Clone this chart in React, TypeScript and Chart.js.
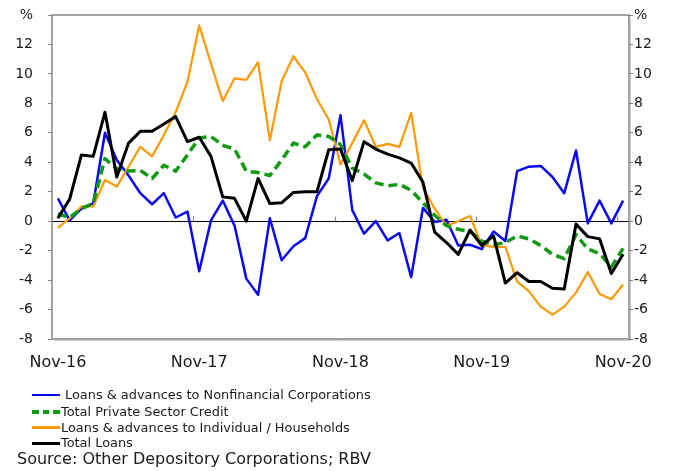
import React, { useEffect, useRef } from "react";
import { Chart, registerables } from "chart.js";

Chart.register(...registerables);

const months = [
  "Nov-16", "Dec-16", "Jan-17", "Feb-17", "Mar-17", "Apr-17", "May-17", "Jun-17", "Jul-17", "Aug-17", "Sep-17", "Oct-17",
  "Nov-17", "Dec-17", "Jan-18", "Feb-18", "Mar-18", "Apr-18", "May-18", "Jun-18", "Jul-18", "Aug-18", "Sep-18", "Oct-18",
  "Nov-18", "Dec-18", "Jan-19", "Feb-19", "Mar-19", "Apr-19", "May-19", "Jun-19", "Jul-19", "Aug-19", "Sep-19", "Oct-19",
  "Nov-19", "Dec-19", "Jan-20", "Feb-20", "Mar-20", "Apr-20", "May-20", "Jun-20", "Jul-20", "Aug-20", "Sep-20", "Oct-20",
  "Nov-20",
];

const shownLabels = ["Nov-16", "Nov-17", "Nov-18", "Nov-19", "Nov-20"];

const nonfinancialCorporations = [
  1.55, 0.05, 0.85, 1.2, 6.0, 4.15, 3.1, 1.9, 1.15, 1.9,
  0.25, 0.65, -3.4, 0.05, 1.4, -0.3, -3.9, -5.0, 0.2, -2.65,
  -1.7, -1.15, 1.7, 2.9, 7.2, 0.75, -0.85, 0.0, -1.3, -0.8,
  -3.8, 0.9, -0.05, 0.1, -1.65, -1.6, -1.9, -0.7, -1.35, 3.4,
  3.7, 3.75, 3.0, 1.9, 4.8, -0.15, 1.4, -0.15, 1.4,
];

const totalPrivateSectorCredit = [
  0.5, 0.25, 0.85, 1.2, 4.25, 3.55, 3.4, 3.45, 2.9, 3.8,
  3.4, 4.5, 5.65, 5.75, 5.15, 4.9, 3.4, 3.3, 3.1, 4.15,
  5.3, 5.05, 5.85, 5.75, 5.2, 3.6, 3.2, 2.6, 2.4, 2.5,
  2.1, 1.25, 0.4, -0.3, -0.55, -0.7, -1.35, -1.6, -1.45, -1.0,
  -1.2, -1.65, -2.25, -2.55, -0.9, -1.9, -2.2, -3.1, -1.85,
];

const households = [
  -0.45, 0.2, 1.0, 1.0, 2.8, 2.35, 3.7, 5.05, 4.4, 5.85,
  7.4, 9.45, 13.3, 10.7, 8.15, 9.7, 9.6, 10.8, 5.5, 9.5,
  11.2, 10.1, 8.3, 6.9, 3.85, 5.3, 6.85, 5.05, 5.25, 5.05,
  7.35, 2.3, 0.85, -0.3, 0.0, 0.35, -1.65, -1.75, -1.75, -4.1,
  -4.75, -5.8, -6.35, -5.8, -4.85, -3.45, -4.95, -5.3, -4.3,
];

const totalLoans = [
  0.2, 1.5, 4.5, 4.4, 7.4, 3.0, 5.3, 6.1, 6.1, 6.6,
  7.1, 5.4, 5.7, 4.4, 1.65, 1.55, 0.0, 2.9, 1.2, 1.25,
  1.95, 2.0, 2.0, 4.85, 4.9, 2.75, 5.4, 4.9, 4.55, 4.3,
  3.95, 2.65, -0.75, -1.45, -2.25, -0.6, -1.65, -1.0, -4.2, -3.5,
  -4.1, -4.1, -4.55, -4.6, -0.2, -1.05, -1.2, -3.55, -2.25,
];

const seriesNames = [
  "Loans & advances to Nonfinancial Corporations",
  "Total Private Sector Credit",
  "Loans & advances to Individual / Households",
  "Total Loans",
];

const sourceText = "Source: Other Depository Corporations; RBV";

const FONT = "'DejaVu Sans', 'Noto Sans', sans-serif";
const BLUE = "#0a0af0";
const GREEN = "#109a10";
const ORANGE = "#ff9a05";
const BLACK = "#000000";
const TEXT = "#1a1a1a";

const framePlugin = {
  id: "frame",
  beforeDatasetsDraw(chart: any) {
    const { ctx, chartArea, scales } = chart;
    const x = scales.x;
    const y = scales.y;
    const y0 = Math.round(y.getPixelForValue(0)) + 0.5;
    ctx.save();
    ctx.strokeStyle = "#000";
    ctx.lineWidth = 1;
    ctx.beginPath();
    ctx.moveTo(chartArea.left, y0);
    ctx.lineTo(chartArea.right, y0);
    ctx.stroke();
    ctx.strokeStyle = "#888";
    for (let i = 11; i < months.length - 1; i += 12) {
      const px = Math.round((x.getPixelForValue(i) + x.getPixelForValue(i + 1)) / 2) + 0.5;
      ctx.beginPath();
      ctx.moveTo(px, y0);
      ctx.lineTo(px, y0 - 5);
      ctx.stroke();
    }
    ctx.strokeStyle = "#858585";
    ctx.lineWidth = 1.5;
    ctx.strokeRect(chartArea.left, chartArea.top, chartArea.right - chartArea.left, chartArea.bottom - chartArea.top);
    ctx.strokeStyle = "rgba(0,0,0,0.18)";
    ctx.lineWidth = 1;
    ctx.beginPath();
    ctx.moveTo(chartArea.left + 2, chartArea.bottom + 1.5);
    ctx.lineTo(chartArea.right + 1.5, chartArea.bottom + 1.5);
    ctx.lineTo(chartArea.right + 1.5, chartArea.top + 2);
    ctx.stroke();
    ctx.restore();
  },
};

const yTick = (v: any) => (Number(v) === 14 ? "%" : String(v));

export default function App() {
  const canvasRef = useRef<HTMLCanvasElement | null>(null);

  useEffect(() => {
    const canvas = canvasRef.current;
    if (!canvas) return;
    const chart = new Chart(canvas, {
      type: "line",
      data: {
        labels: months,
        datasets: [
          { label: seriesNames[0], data: nonfinancialCorporations, borderColor: BLUE, borderWidth: 2.5, order: 3 },
          { label: seriesNames[1], data: totalPrivateSectorCredit, borderColor: GREEN, borderWidth: 3.5, borderDash: [9, 5], order: 1 },
          { label: seriesNames[2], data: households, borderColor: ORANGE, borderWidth: 2.2, order: 2 },
          { label: seriesNames[3], data: totalLoans, borderColor: BLACK, borderWidth: 3, order: 0 },
        ],
      },
      options: {
        responsive: false,
        animation: false,
        devicePixelRatio: 1,
        layout: { padding: { top: 15, left: 0, right: 0, bottom: 0 } },
        plugins: { legend: { display: false }, tooltip: { enabled: false } },
        elements: {
          point: { radius: 0, hoverRadius: 0 },
          line: { tension: 0, fill: false, borderJoinStyle: "round", borderCapStyle: "butt" },
        },
        scales: {
          x: {
            type: "category",
            offset: true,
            grid: { display: false, drawTicks: false },
            border: { display: false },
            ticks: {
              autoSkip: false,
              maxRotation: 0,
              minRotation: 0,
              padding: 14,
              color: TEXT,
              font: { family: FONT, size: 16 },
              callback: (_v: any, i: number) => (shownLabels.includes(months[i]) ? months[i] : ""),
            },
            afterFit: (s: any) => {
              s.height = 132;
            },
          },
          y: {
            position: "left",
            min: -8,
            max: 14,
            grid: { drawOnChartArea: false, drawTicks: true, tickLength: 4, color: "#858585" },
            border: { display: false },
            ticks: { stepSize: 2, padding: 15, color: TEXT, font: { family: FONT, size: 14 }, callback: yTick },
            afterFit: (s: any) => {
              s.width = 52;
              s.paddingTop = 8;
              s.paddingBottom = 8;
            },
          },
          y2: {
            position: "right",
            min: -8,
            max: 14,
            grid: { drawOnChartArea: false, drawTicks: true, tickLength: 4, color: "#858585" },
            border: { display: false },
            ticks: { stepSize: 2, padding: 1, color: TEXT, font: { family: FONT, size: 14 }, callback: yTick },
            afterFit: (s: any) => {
              s.width = 56;
              s.paddingTop = 8;
              s.paddingBottom = 8;
            },
          },
        },
      },
      plugins: [framePlugin],
    } as any);
    return () => chart.destroy();
  }, []);

  const legendItems = [
    { name: seriesNames[0], color: BLUE, dashed: false, width: 2.5, textLeft: 65 },
    { name: seriesNames[1], color: GREEN, dashed: true, width: 4, textLeft: 61 },
    { name: seriesNames[2], color: ORANGE, dashed: false, width: 2.5, textLeft: 61 },
    { name: seriesNames[3], color: BLACK, dashed: false, width: 3, textLeft: 61 },
  ];
  const rowY = [395, 411.5, 427.5, 443];

  return (
    <div
      style={{
        position: "fixed",
        left: 0,
        top: 0,
        width: 685,
        height: 471,
        background: "#fff",
        overflow: "hidden",
        fontFamily: FONT,
        color: TEXT,
      }}
    >
      <canvas ref={canvasRef} width={685} height={471} style={{ position: "absolute", left: 0, top: 0, width: 685, height: 471 }} />
      {legendItems.map((it, k) => (
        <div key={k}>
          {it.dashed ? (
            <div style={{ position: "absolute", left: 32, top: rowY[k] - it.width / 2, width: 28, height: it.width, display: "flex", gap: 4 }}>
              <div style={{ width: 8, height: it.width, background: it.color }} />
              <div style={{ width: 8, height: it.width, background: it.color }} />
              <div style={{ width: 8, height: it.width, background: it.color }} />
            </div>
          ) : (
            <div style={{ position: "absolute", left: 32, top: rowY[k] - it.width / 2, width: 28, height: it.width, background: it.color }} />
          )}
          <div
            style={{
              position: "absolute",
              left: it.textLeft,
              top: rowY[k] - 8,
              height: 16,
              lineHeight: "16px",
              fontSize: 12.9,
              whiteSpace: "nowrap",
            }}
          >
            {it.name}
          </div>
        </div>
      ))}
      <div
        style={{
          position: "absolute",
          left: 17,
          top: 449,
          height: 20,
          lineHeight: "20px",
          fontSize: 16,
          whiteSpace: "nowrap",
        }}
      >
        {sourceText}
      </div>
    </div>
  );
}
